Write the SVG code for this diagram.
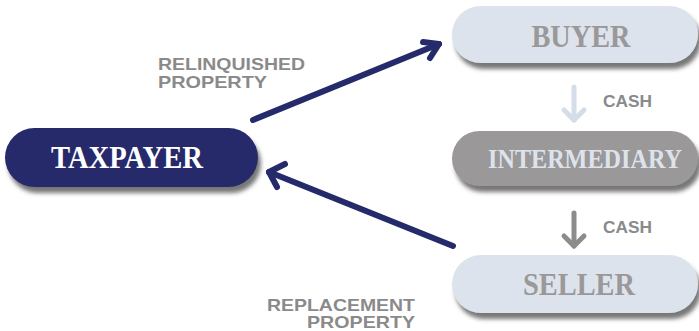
<svg xmlns="http://www.w3.org/2000/svg" width="699" height="331" viewBox="0 0 699 331">
  <defs>
    <filter id="shadow" x="-10%" y="-20%" width="130%" height="160%">
      <feDropShadow dx="3" dy="6" stdDeviation="2" flood-color="#4a4a4a" flood-opacity="0.75"/>
    </filter>
  </defs>
  <style>
    .pill-dark { fill: #252a6b; filter: url(#shadow); }
    .pill-light { fill: #dde3ec; filter: url(#shadow); }
    .pill-gray { fill: #9a9899; filter: url(#shadow); }
    .node-text { font-family: "Liberation Serif", "DejaVu Serif", serif; font-weight: bold; text-anchor: middle; }
    .label { font-family: "Liberation Sans", Arial, sans-serif; font-weight: bold; fill: #8a8a8a; font-size: 16.5px; }
    .flow { fill: none; stroke: #252a6b; stroke-width: 6; stroke-linecap: round; stroke-linejoin: round; }
    .cash-light { fill: none; stroke: #d5dde9; stroke-width: 5; stroke-linecap: round; stroke-linejoin: round; }
    .cash-dark { fill: none; stroke: #8c8c8c; stroke-width: 5; stroke-linecap: round; stroke-linejoin: round; }
  </style>

  <!-- connectors -->
  <g id="connectors">
    <!-- taxpayer to buyer -->
    <line class="flow" x1="253" y1="120" x2="439" y2="44"/>
    <polyline class="flow" points="423,42 439,44 430,58"/>
    <!-- seller to taxpayer -->
    <line class="flow" x1="453" y1="246" x2="269" y2="172"/>
    <polyline class="flow" points="285,164 269,172 277,187"/>
    <!-- cash: buyer to intermediary -->
    <line class="cash-light" x1="574" y1="87" x2="574" y2="120"/>
    <polyline class="cash-light" points="564,110 574,120 584,110"/>
    <!-- cash: intermediary to seller -->
    <line class="cash-dark" x1="574" y1="213" x2="574" y2="246"/>
    <polyline class="cash-dark" points="564,236 574,246 584,236"/>
  </g>

  <!-- connector labels -->
  <g id="labels">
    <text class="label" x="158" y="70" textLength="147" lengthAdjust="spacingAndGlyphs">RELINQUISHED</text>
    <text class="label" x="158" y="88" textLength="109" lengthAdjust="spacingAndGlyphs">PROPERTY</text>
    <text class="label" x="267" y="311" textLength="148" lengthAdjust="spacingAndGlyphs">REPLACEMENT</text>
    <text class="label" x="307" y="328" textLength="108" lengthAdjust="spacingAndGlyphs">PROPERTY</text>
    <text class="label" x="603" y="107" textLength="49" lengthAdjust="spacingAndGlyphs">CASH</text>
    <text class="label" x="603" y="233" textLength="49" lengthAdjust="spacingAndGlyphs">CASH</text>
  </g>

  <g id="taxpayer">
    <rect class="pill-dark" x="5" y="128" width="253" height="59" rx="29.5"/>
    <text class="node-text" x="127" y="168" font-size="31" fill="#ffffff" textLength="152" lengthAdjust="spacingAndGlyphs">TAXPAYER</text>
  </g>

  <g id="buyer">
    <rect class="pill-light" x="452" y="6" width="246" height="57" rx="28.5"/>
    <text class="node-text" x="581" y="47" font-size="32" fill="#9a9899" textLength="99" lengthAdjust="spacingAndGlyphs">BUYER</text>
  </g>

  <g id="intermediary">
    <rect class="pill-gray" x="452" y="131" width="246" height="55" rx="27.5"/>
    <text class="node-text" x="585" y="168" font-size="27" fill="#dde3ec" textLength="194" lengthAdjust="spacingAndGlyphs">INTERMEDIARY</text>
  </g>

  <g id="seller">
    <rect class="pill-light" x="452" y="255" width="246" height="58" rx="29"/>
    <text class="node-text" x="579" y="295" font-size="32" fill="#9a9899" textLength="112" lengthAdjust="spacingAndGlyphs">SELLER</text>
  </g>
</svg>
